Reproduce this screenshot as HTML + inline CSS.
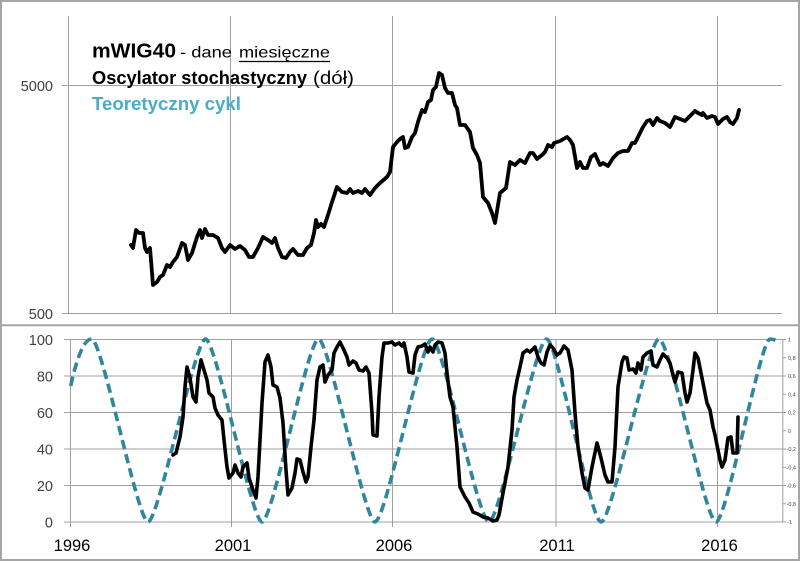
<!DOCTYPE html>
<html>
<head>
<meta charset="utf-8">
<style>
html,body{margin:0;padding:0;background:#fff;}
svg{display:block;}
text{font-family:"Liberation Sans",sans-serif;}
</style>
</head>
<body>
<svg width="800" height="561" viewBox="0 0 800 561" xmlns="http://www.w3.org/2000/svg">
<rect x="0" y="0" width="800" height="561" fill="#fff"/>
<!-- outer border & separator -->
<rect x="1" y="1" width="798" height="559" fill="none" stroke="#a6a6a6" stroke-width="2"/>
<line x1="0" y1="325.3" x2="800" y2="325.3" stroke="#a6a6a6" stroke-width="2"/>

<!-- ===== TOP PANEL ===== -->
<g stroke="#a0a0a0" stroke-width="1" fill="none">
  <line x1="68.5" y1="16" x2="68.5" y2="313.5"/>
  <line x1="230.5" y1="16" x2="230.5" y2="313.5"/>
  <line x1="392.5" y1="16" x2="392.5" y2="313.5"/>
  <line x1="555.5" y1="16" x2="555.5" y2="313.5"/>
  <line x1="717.5" y1="16" x2="717.5" y2="313.5"/>
  <line x1="62" y1="85.5" x2="782" y2="85.5"/>
  <line x1="62" y1="313.5" x2="782" y2="313.5"/>
</g>
<g font-size="14.5" fill="#404040" text-anchor="end">
  <text x="53" y="91">5000</text>
  <text x="53" y="319">500</text>
</g>

<!-- title -->
<text x="92" y="57.5" font-size="20" font-weight="bold" fill="#000" textLength="84" lengthAdjust="spacingAndGlyphs">mWIG40</text>
<text x="180" y="57.5" font-size="16" fill="#000" textLength="52" lengthAdjust="spacingAndGlyphs">- dane</text>
<text x="239" y="57.5" font-size="16" fill="#000" textLength="91" lengthAdjust="spacingAndGlyphs">miesięczne</text>
<line x1="239" y1="61.5" x2="330" y2="61.5" stroke="#000" stroke-width="1.2"/>
<text x="92" y="84" font-size="18" font-weight="bold" fill="#000" textLength="215" lengthAdjust="spacingAndGlyphs">Oscylator stochastyczny</text>
<text x="313" y="84" font-size="18" fill="#000" textLength="41" lengthAdjust="spacingAndGlyphs">(dół)</text>
<text x="92" y="110" font-size="18" font-weight="bold" fill="#4bacc6" textLength="149" lengthAdjust="spacingAndGlyphs">Teoretyczny cykl</text>

<!-- mWIG40 line -->
<polyline fill="none" stroke="#000" stroke-width="3.8" stroke-linejoin="round" stroke-linecap="round"
points="131,245 133,248 136,230 139,233 143,233 145,248 147,252 150,248 153,285 157,282 160,277 163,275 167,265 170,267 173,262 177,257 182,243 185,245 188,260 192,253 197,237 200,230 202,238 205,229 208,235 213,235 218,238 222,248 225,252 230,245 235,249 240,246 245,250 249,257 253,257 258,248 263,237 268,240 272,243 275,238 278,248 282,257 286,258 290,252 293,249 298,255 303,255 307,248 311,245 314,233 316,220 318,227 321,224 324,227 328,215 332,202 337,187 342,192 347,193 350,189 353,193 358,191 362,193 365,189 370,195 375,188 380,183 387,177 390,172 393,147 397,142 400,139 403,137 405,148 408,147 412,137 415,133 418,122 422,110 425,112 428,102 431,100 433,90 436,87 439,73 442,75 445,88 448,93 452,93 455,105 457,108 460,125 465,125 470,132 473,148 477,155 480,163 483,197 488,203 492,213 495,223 500,193 506,188 510,162 515,165 520,160 525,163 530,153 533,153 537,159 542,155 545,152 548,145 552,147 554,143 560,141 567,137 570,140 573,145 577,168 580,162 583,168 587,168 591,157 595,154 600,165 603,163 608,166 613,158 618,153 623,151 628,151 632,143 635,143 638,137 643,127 647,121 650,120 653,125 657,118 660,121 665,123 670,127 675,117 680,119 685,121 690,116 695,111 698,113 702,115 703,113 707,118 712,116 715,117 718,124 723,119 727,117 730,122 733,124 737,118 739,110"/>

<!-- ===== BOTTOM PANEL ===== -->
<g stroke="#a0a0a0" stroke-width="1" fill="none">
  <line x1="64" y1="339.5" x2="783" y2="339.5"/>
  <line x1="64" y1="376" x2="783" y2="376"/>
  <line x1="64" y1="412.5" x2="783" y2="412.5"/>
  <line x1="64" y1="449" x2="783" y2="449"/>
  <line x1="64" y1="485.5" x2="783" y2="485.5"/>
  <line x1="64" y1="522" x2="783" y2="522"/>
  <line x1="70.5" y1="339" x2="70.5" y2="527"/>
  <line x1="231.5" y1="339" x2="231.5" y2="527"/>
  <line x1="392.5" y1="339" x2="392.5" y2="527"/>
  <line x1="556" y1="339" x2="556" y2="527"/>
  <line x1="717.5" y1="339" x2="717.5" y2="527"/>
  <line x1="782.8" y1="339" x2="782.8" y2="522"/>
  <line x1="782.8" y1="339.5" x2="786" y2="339.5"/>
  <line x1="782.8" y1="357.8" x2="786" y2="357.8"/>
  <line x1="782.8" y1="376" x2="786" y2="376"/>
  <line x1="782.8" y1="394.3" x2="786" y2="394.3"/>
  <line x1="782.8" y1="412.5" x2="786" y2="412.5"/>
  <line x1="782.8" y1="430.8" x2="786" y2="430.8"/>
  <line x1="782.8" y1="449" x2="786" y2="449"/>
  <line x1="782.8" y1="467.3" x2="786" y2="467.3"/>
  <line x1="782.8" y1="485.5" x2="786" y2="485.5"/>
  <line x1="782.8" y1="503.8" x2="786" y2="503.8"/>
  <line x1="782.8" y1="522" x2="786" y2="522"/>
</g>
<g font-size="14.5" fill="#404040" text-anchor="end">
  <text x="53" y="345">100</text>
  <text x="53" y="381.5">80</text>
  <text x="53" y="418">60</text>
  <text x="53" y="454.5">40</text>
  <text x="53" y="491">20</text>
  <text x="53" y="527.5">0</text>
</g>
<g font-size="5.5" fill="#404040">
  <text x="788" y="341.5">1</text>
  <text x="788" y="359.8">0,8</text>
  <text x="788" y="378">0,6</text>
  <text x="788" y="396.3">0,4</text>
  <text x="788" y="414.5">0,2</text>
  <text x="788" y="432.8">0</text>
  <text x="786.5" y="451">-0,2</text>
  <text x="786.5" y="469.3">-0,4</text>
  <text x="786.5" y="487.5">-0,6</text>
  <text x="786.5" y="505.8">-0,8</text>
  <text x="787" y="524">-1</text>
</g>
<g font-size="16.5" fill="#000" text-anchor="middle">
  <text x="72" y="551">1996</text>
  <text x="233" y="551">2001</text>
  <text x="394" y="551">2006</text>
  <text x="557" y="551">2011</text>
  <text x="719.5" y="551">2016</text>
</g>

<!-- theoretical cycle (dashed) -->
<path fill="none" stroke="#31859c" stroke-width="3.6" stroke-dasharray="9.5 5"
d="M70.7,386 C76,362 83,339 91.7,339
C102,339 137.8,522 148,522
C158.5,522 195,339 205.5,339
C216,339 251.7,522 262,522
C272.5,522 308,339 318.5,339
C329,339 364.6,522 375,522
C386,522 421,339 432,339
C442.5,339 478,522 489,522
C499.5,522 535.6,339 546.7,339
C557,339 590.5,522 601,522
C612,522 648,339 659,339
C670,339 705.4,522 716,522
C726.5,522 760.5,339 770,339
C774,339 777,341 780,343"/>

<!-- stochastic oscillator -->
<polyline fill="none" stroke="#000" stroke-width="3.6" stroke-linejoin="round" stroke-linecap="round"
points="173,455 176,453 180,437 183,417 185,387 187,367 190,378 193,397 196,402 198,377 201,360 204,370 207,380 209,393 213,397 215,408 218,415 222,420 224,440 227,467 229,478 233,473 235,465 238,473 241,477 243,467 247,463 249,478 253,490 256,498 258,477 262,403 265,362 268,355 271,367 273,385 277,387 280,398 283,423 286,470 288,495 292,488 295,473 297,459 300,460 303,472 306,482 308,477 311,447 314,420 317,380 320,367 323,365 325,382 328,375 332,370 334,353 337,347 340,342 343,348 347,357 349,365 353,361 356,363 359,370 363,371 366,367 369,373 372,413 373,435 377,436 379,397 382,357 384,343 388,343 392,342 395,345 399,343 402,346 404,343 407,357 409,372 413,373 415,355 418,347 422,346 425,344 428,352 430,347 433,352 435,345 438,342 442,343 445,353 447,373 450,397 453,407 457,447 460,487 465,497 469,503 473,512 478,514 483,517 488,518 493,521 497,520 499,515 503,493 508,467 512,430 514,397 517,380 520,367 523,353 527,350 530,352 535,347 538,357 541,363 544,365 547,352 550,345 553,348 557,355 560,353 564,346 568,350 572,370 575,413 578,447 582,473 585,488 588,490 592,467 597,443 601,458 605,475 608,482 612,482 615,447 618,387 622,362 624,357 627,358 629,370 633,369 636,373 638,363 641,370 643,357 647,353 651,351 653,365 657,367 660,360 663,354 667,358 670,363 673,375 675,382 678,372 682,373 685,393 687,402 690,393 693,370 695,353 698,358 702,378 705,393 707,403 710,410 713,427 715,435 717,445 720,460 722,467 725,460 728,438 731,437 733,453 737,453 738,417"/>
</svg>
</body>
</html>
